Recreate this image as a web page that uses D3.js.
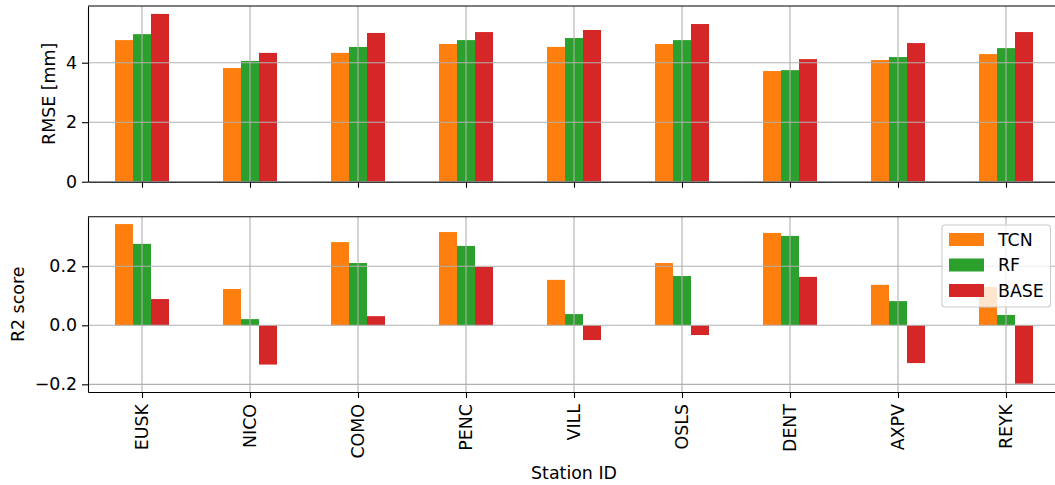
<!DOCTYPE html>
<html>
<head>
<meta charset="utf-8">
<script src="https://cdn.jsdelivr.net/npm/d3@7"></script>
<style>
  html, body { margin: 0; padding: 0; background: #fff; }
  svg { display: block; font-family: "DejaVu Sans", sans-serif; }
</style>
</head>
<body>
<svg id="chart" width="1055" height="485"></svg>
<script>
// Station IDs along the shared x axis
const stations = ["EUSK", "NICO", "COMO", "PENC", "VILL", "OSLS", "DENT", "AXPV", "REYK"];
const models = ["TCN", "RF", "BASE"];
const modelColors = ["#ff7f0e", "#2ca02c", "#d62728"];

// RMSE per station [mm]
const rmseTCN  = [4.76, 3.82, 4.33, 4.63, 4.53, 4.63, 3.72, 4.09, 4.29];
const rmseRF   = [4.96, 4.06, 4.53, 4.76, 4.83, 4.76, 3.75, 4.19, 4.49];
const rmseBASE = [5.64, 4.33, 5.00, 5.03, 5.10, 5.30, 4.12, 4.66, 5.03];

// R2 score per station
const r2TCN  = [0.343, 0.123, 0.282, 0.316, 0.154, 0.211, 0.313, 0.137, 0.130];
const r2RF   = [0.276, 0.021, 0.211, 0.269, 0.038, 0.167, 0.303, 0.082, 0.035];
const r2BASE = [0.089, -0.133, 0.031, 0.198, -0.050, -0.033, 0.164, -0.128, -0.198];

const rmseTicks = [0, 2, 4];
const r2Ticks = [-0.2, 0.0, 0.2];

const svg = d3.select("#chart");
const FONT = 17.4;
const TICK = 6;
const LW = 1.1;
const GRID = "#b0b0b0";

// Categorical positions on a linear axis, half a slot padding at each end
const x = d3.scaleLinear().domain([-0.5, stations.length - 0.5]).range([88, 1060]);
const groupWidth = 0.5;
const barW = groupWidth / models.length;

function panel(opts) {
  const { top, bottom, domain, ticks, fmt, series, ylabel, ylabelX, showX } = opts;
  const y = d3.scaleLinear().domain(domain).range([bottom, top]);
  const g = svg.append("g");

  // bars
  series.forEach((vals, j) => {
    g.append("g").selectAll("rect").data(vals).join("rect")
      .attr("x", (d, i) => x(i - groupWidth / 2 + j * barW))
      .attr("width", x(barW) - x(0))
      .attr("y", d => y(Math.max(0, d)))
      .attr("height", d => Math.abs(y(d) - y(0)))
      .attr("fill", modelColors[j]);
  });

  // grid on top of bars
  const grid = g.append("g").attr("stroke", GRID).attr("stroke-width", LW);
  ticks.forEach(t => grid.append("line")
    .attr("x1", x.range()[0]).attr("x2", x.range()[1])
    .attr("y1", y(t)).attr("y2", y(t)));
  stations.forEach((s, i) => grid.append("line")
    .attr("x1", x(i)).attr("x2", x(i))
    .attr("y1", top).attr("y2", bottom));

  // y axis
  const yAxis = d3.axisLeft(y).tickValues(ticks).tickFormat(fmt)
    .tickSizeInner(TICK).tickSizeOuter(0).tickPadding(5);
  const ya = g.append("g").attr("transform", `translate(${x.range()[0]},0)`).call(yAxis);
  ya.select(".domain").attr("stroke", "#000").attr("stroke-width", LW);
  ya.selectAll(".tick line").attr("stroke", "#000").attr("stroke-width", LW);
  ya.selectAll(".tick text").attr("font-size", FONT).attr("fill", "#000")
    .attr("font-family", "DejaVu Sans");

  // x axis
  const xAxis = d3.axisBottom(x).tickValues(d3.range(stations.length))
    .tickFormat(i => showX ? stations[i] : "")
    .tickSizeInner(TICK).tickSizeOuter(0).tickPadding(6);
  const xa = g.append("g").attr("transform", `translate(0,${bottom})`).call(xAxis);
  xa.select(".domain").attr("stroke", "#000").attr("stroke-width", LW);
  xa.selectAll(".tick line").attr("stroke", "#000").attr("stroke-width", LW);
  if (showX) {
    xa.selectAll(".tick text")
      .attr("font-size", FONT).attr("fill", "#000").attr("font-family", "DejaVu Sans")
      .attr("transform", "rotate(-90)")
      .attr("text-anchor", "end")
      .attr("dy", "0.32em")
      .attr("y", 0)
      .attr("x", -12);
  }

  // top spine
  g.append("line").attr("x1", x.range()[0]).attr("x2", x.range()[1])
    .attr("y1", top).attr("y2", top).attr("stroke", "#000").attr("stroke-width", LW);

  // y label
  g.append("text")
    .attr("transform", `translate(${ylabelX},${(top + bottom) / 2}) rotate(-90)`)
    .attr("text-anchor", "middle").attr("dy", "0.35em")
    .attr("font-size", FONT).attr("fill", "#000")
    .text(ylabel);
  return y;
}

panel({
  top: 6, bottom: 181.7, domain: [0, 5.906], ticks: rmseTicks, fmt: d3.format("d"),
  series: [rmseTCN, rmseRF, rmseBASE], ylabel: "RMSE [mm]", ylabelX: 49, showX: false
});

panel({
  top: 216.7, bottom: 392, domain: [-0.226, 0.368], ticks: r2Ticks,
  fmt: d => d3.format(".1f")(d).replace("-", "\u2212"),
  series: [r2TCN, r2RF, r2BASE], ylabel: "R2 score", ylabelX: 18, showX: true
});

// x label
svg.append("text")
  .attr("x", (x.range()[0] + x.range()[1]) / 2).attr("y", 479)
  .attr("text-anchor", "middle").attr("font-size", FONT).attr("fill", "#000")
  .text("Station ID");

// legend
const lg = svg.append("g").attr("transform", "translate(942,225)");
lg.append("rect").attr("x", 0).attr("y", 0).attr("width", 108.5).attr("height", 82)
  .attr("rx", 3).attr("fill", "#fff").attr("fill-opacity", 0.8)
  .attr("stroke", "#cccccc").attr("stroke-width", LW);
models.forEach((m, j) => {
  const yy = 8 + j * 25.5;
  lg.append("rect").attr("x", 7).attr("y", yy).attr("width", 35).attr("height", 13)
    .attr("fill", modelColors[j]);
  lg.append("text").attr("x", 56).attr("y", yy + 6.5).attr("dy", "0.35em")
    .attr("font-size", FONT).attr("fill", "#000").text(m);
});
</script>
</body>
</html>
